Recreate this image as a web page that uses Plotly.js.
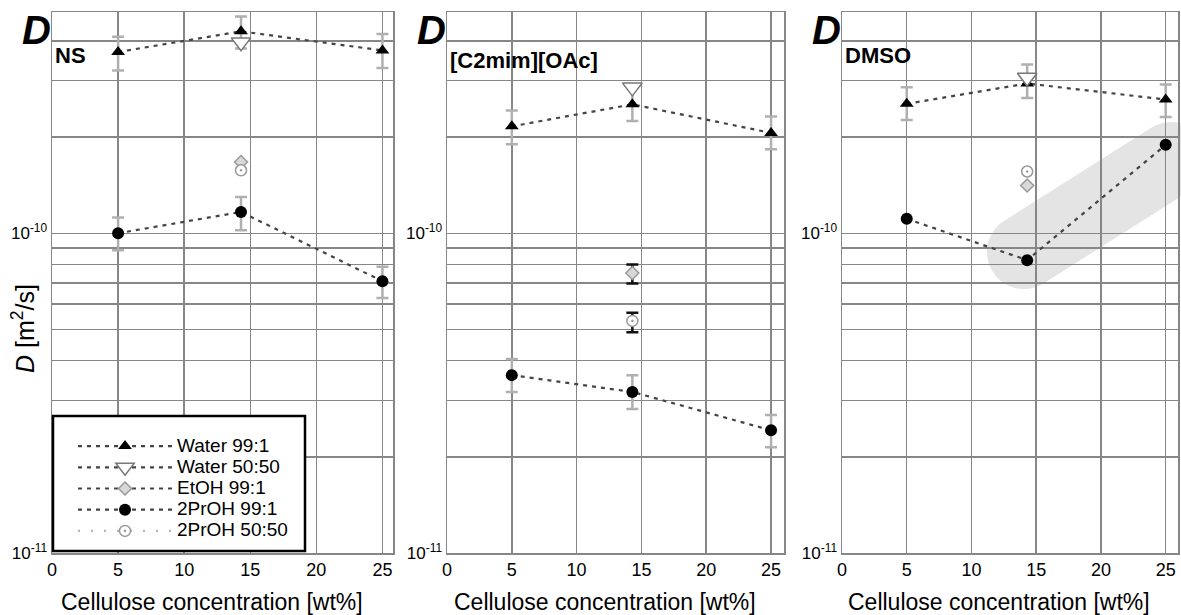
<!DOCTYPE html>
<html><head><meta charset="utf-8">
<script src="https://cdn.plot.ly/plotly-3.0.1.min.js"></script>
<style>html,body{margin:0;padding:0;background:#fff}#chart{width:1181px;height:615px}</style>
</head><body><div id="chart"></div>
<script>
// ---------- data ----------
const conc = [5, 14.3, 25];
const concMid = [14.3];
const panelLabels = ['NS', '[C2mim][OAc]', 'DMSO'];
const seriesNames = ['Water 99:1', 'Water 50:50', 'EtOH 99:1', '2PrOH 99:1', '2PrOH 50:50'];
const xTickVals = [0, 5, 10, 15, 20, 25];
const yTickVals = [1e-11, 1e-10];
const yTickText = ['10<sup>-11</sup>', '10<sup>-10</sup>'];
const yMinorVals = [2e-11, 3e-11, 4e-11, 5e-11, 6e-11, 7e-11, 8e-11, 9e-11, 2e-10, 3e-10, 4e-10];
const xAxisTitle = 'Cellulose concentration [wt%]';
const yAxisTitle = '<i>D</i> [m<sup>2</sup>/s]';

// NS
const nsWater991 = [3.69e-10, 4.28e-10, 3.73e-10];
const nsWater991Hi = [4.12e-10, 4.76e-10, 4.20e-10];
const nsWater991Lo = [3.23e-10, 3.78e-10, 3.29e-10];
const nsWater5050 = [3.96e-10];
const nsEtoh991 = [1.67e-10];
const nsProh991 = [1.00e-10, 1.166e-10, 7.08e-11];
const nsProh991Hi = [1.12e-10, 1.298e-10, 7.85e-11];
const nsProh991Lo = [8.85e-11, 1.022e-10, 6.27e-11];
const nsProh5050 = [1.574e-10];

// [C2mim][OAc]
const ilWater991 = [2.16e-10, 2.53e-10, 2.06e-10];
const ilWater991Hi = [2.42e-10, 2.85e-10, 2.32e-10];
const ilWater991Lo = [1.90e-10, 2.245e-10, 1.83e-10];
const ilWater5050 = [2.86e-10];
const ilEtoh991 = [7.51e-11];
const ilEtoh991Hi = [7.98e-11];
const ilEtoh991Lo = [6.96e-11];
const ilProh991 = [3.60e-11, 3.19e-11, 2.42e-11];
const ilProh991Hi = [4.04e-11, 3.60e-11, 2.70e-11];
const ilProh991Lo = [3.19e-11, 2.82e-11, 2.14e-11];
const ilProh5050 = [5.32e-11];
const ilProh5050Hi = [5.64e-11];
const ilProh5050Lo = [4.90e-11];

// DMSO
const dmWater991 = [2.54e-10, 2.94e-10, 2.62e-10];
const dmWater991Hi = [2.86e-10, 3.37e-10, 2.92e-10];
const dmWater991Lo = [2.26e-10, 2.65e-10, 2.31e-10];
const dmWater5050 = [3.07e-10];
const dmEtoh991 = [1.41e-10];
const dmProh991 = [1.11e-10, 8.24e-11, 1.89e-10];
const dmProh5050 = [1.56e-10];

// ---------- styling / layout helpers ----------
const FONT = 'Liberation Sans, Arial, sans-serif';
const W = 1181, H = 615, ML = 52, MR = 3, MT = 12, MB = 62;
const PW = W - ML - MR, PH = H - MT - MB;
const px2x = p => (p - ML) / PW;
const px2y = p => (H - MB - p) / PH;
const panelPx = [[52, 393], [447, 784], [842, 1178]];
const xRanges = [[0, 25.8], [0, 26.0], [0, 25.95]];
const GRID = '#878787';
const ERRGRAY = '#b0b0b0';
const LINEC = '#444';

function err(vals, hi, lo, color) {
  if (!hi) return {visible: false};
  return {type: 'data', symmetric: false,
    array: vals.map((v, i) => hi[i] - v),
    arrayminus: vals.map((v, i) => v - lo[i]),
    color: color, thickness: 2.5, width: 6};
}

const mk = {
  w991: {symbol: 'triangle-up', size: 12, color: '#000'},
  w5050: {symbol: 'triangle-down', size: 17, color: '#fff', line: {color: '#777', width: 1.5}},
  e991: {symbol: 'diamond', size: 10, color: '#d8d8d8', line: {color: '#999', width: 1.5}},
  p991: {symbol: 'circle', size: 12, color: '#000'},
  p5050: {symbol: 'circle-dot', size: 11, color: '#fff', line: {color: '#999', width: 1.5}}
};
const ln = {color: LINEC, width: 2.2, dash: '4px,5px'};
const lnLight = {color: '#b5b5b5', width: 2.2, dash: '2px,11px'};
const legName = s => '<span style="font-size:19px">' + s + '</span>';

function panel(i, d) {
  const xa = 'x' + (i === 0 ? '' : i + 1), ya = 'y' + (i === 0 ? '' : i + 1);
  const show = i === 0;
  return [
    {x: conc, y: d.w991, mode: 'lines+markers', name: legName(seriesNames[0]), legendgroup: 'g', showlegend: show,
     line: ln, marker: mk.w991, error_y: err(d.w991, d.w991Hi, d.w991Lo, ERRGRAY), xaxis: xa, yaxis: ya},
    {x: concMid, y: d.w5050, mode: 'lines+markers', name: legName(seriesNames[1]), legendgroup: 'g', showlegend: show,
     line: ln, marker: mk.w5050, xaxis: xa, yaxis: ya},
    {x: concMid, y: d.e991, mode: 'lines+markers', name: legName(seriesNames[2]), legendgroup: 'g', showlegend: show,
     line: ln, marker: mk.e991, error_y: err(d.e991, d.e991Hi, d.e991Lo, '#111'), xaxis: xa, yaxis: ya},
    {x: conc, y: d.p991, mode: 'lines+markers', name: legName(seriesNames[3]), legendgroup: 'g', showlegend: show,
     line: ln, marker: mk.p991, error_y: err(d.p991, d.p991Hi, d.p991Lo, ERRGRAY), xaxis: xa, yaxis: ya},
    {x: concMid, y: d.p5050, mode: 'lines+markers', name: legName(seriesNames[4]), legendgroup: 'g', showlegend: show,
     line: lnLight, marker: mk.p5050, error_y: err(d.p5050, d.p5050Hi, d.p5050Lo, '#111'), xaxis: xa, yaxis: ya}
  ];
}

const data = [].concat(
  panel(0, {w991: nsWater991, w991Hi: nsWater991Hi, w991Lo: nsWater991Lo, w5050: nsWater5050,
            e991: nsEtoh991, p991: nsProh991, p991Hi: nsProh991Hi, p991Lo: nsProh991Lo, p5050: nsProh5050}),
  panel(1, {w991: ilWater991, w991Hi: ilWater991Hi, w991Lo: ilWater991Lo, w5050: ilWater5050,
            e991: ilEtoh991, e991Hi: ilEtoh991Hi, e991Lo: ilEtoh991Lo,
            p991: ilProh991, p991Hi: ilProh991Hi, p991Lo: ilProh991Lo,
            p5050: ilProh5050, p5050Hi: ilProh5050Hi, p5050Lo: ilProh5050Lo}),
  panel(2, {w991: dmWater991, w991Hi: dmWater991Hi, w991Lo: dmWater991Lo, w5050: dmWater5050,
            e991: dmEtoh991, p991: dmProh991, p5050: dmProh5050})
);

const layout = {
  width: W, height: H,
  margin: {l: ML, r: MR, t: MT, b: MB},
  paper_bgcolor: '#fff', plot_bgcolor: 'rgba(0,0,0,0)',
  font: {family: FONT, color: '#000'},
  showlegend: true,
  legend: {x: px2x(73), y: px2y(430.5), xanchor: 'left', yanchor: 'top',
           bgcolor: 'rgba(0,0,0,0)', borderwidth: 0, font: {family: FONT, size: 14, color: '#000'},
           itemwidth: 94, tracegroupgap: 0},
  annotations: [],
  shapes: []
};

for (let i = 0; i < 3; i++) {
  const s = i === 0 ? '' : String(i + 1);
  layout['xaxis' + s] = {
    domain: [px2x(panelPx[i][0]), px2x(panelPx[i][1])], range: xRanges[i], anchor: 'y' + s,
    tickmode: 'array', tickvals: xTickVals, ticks: '', showgrid: true, gridcolor: GRID, gridwidth: 1.5,
    zeroline: false, showline: true, mirror: true, linecolor: GRID, linewidth: 1.5,
    tickfont: {family: FONT, size: 18, color: '#000'}
  };
  layout['yaxis' + s] = {
    type: 'log', range: [-11, -9.308], anchor: 'x' + s,
    tickmode: 'array', tickvals: yTickVals, ticktext: yTickText, ticks: '',
    showgrid: true, gridcolor: GRID, gridwidth: 1.5, zeroline: false,
    minor: {tickmode: 'array', tickvals: yMinorVals, showgrid: true, gridcolor: GRID, gridwidth: 1.5, ticks: ''},
    showline: true, mirror: true, linecolor: GRID, linewidth: 1.5,
    tickfont: {family: FONT, size: 17, color: '#000'}
  };
  const cx = (panelPx[i][0] + panelPx[i][1]) / 2 - 11;
  layout.annotations.push({xref: 'paper', yref: 'paper', x: px2x(cx), y: px2y(602), xanchor: 'center', yanchor: 'middle',
    text: xAxisTitle, showarrow: false, font: {family: FONT, size: 23, color: '#000'}});
  layout.annotations.push({xref: 'paper', yref: 'paper', x: px2x(panelPx[i][0] + 1), y: px2y(30), xanchor: 'right', yanchor: 'middle',
    text: '<b><i>D</i></b>', showarrow: false, font: {family: FONT, size: 40, color: '#000'}});
  layout.annotations.push({xref: 'paper', yref: 'paper', x: px2x(panelPx[i][0] + 0.5), y: px2y(i === 1 ? 60 : 55.5), xanchor: 'left', yanchor: 'middle',
    text: '<b>' + panelLabels[i] + '</b>', showarrow: false, font: {family: FONT, size: 22, color: '#000'}});
}
layout.annotations.push({xref: 'paper', yref: 'paper', x: px2x(23), y: px2y(329), xanchor: 'center', yanchor: 'middle',
  textangle: -90, text: yAxisTitle, showarrow: false, font: {family: FONT, size: 25, color: '#000'}});

// legend frame
layout.shapes.push({type: 'rect', xref: 'paper', yref: 'paper', layer: 'above',
  x0: px2x(53), x1: px2x(305), y0: px2y(551), y1: px2y(416),
  line: {color: '#000', width: 2.5}, fillcolor: '#fff'});

// highlight band in DMSO panel (pixel geometry -> domain coords)
(function () {
  const P1 = [1024, 252], P2 = [1171, 159], r = 37, k = 0.5523;
  const dx = P2[0] - P1[0], dy = P2[1] - P1[1], L = Math.hypot(dx, dy);
  const u = [dx / L, dy / L], n = [-u[1], u[0]];
  const x0 = panelPx[2][0], x1 = panelPx[2][1];
  const toD = p => [((p[0] - x0) / (x1 - x0)).toFixed(4), ((H - MB - p[1]) / PH).toFixed(4)];
  const add = (p, a, s) => [p[0] + a[0] * s, p[1] + a[1] * s];
  const pt = p => toD(p).join(',');
  const A = add(P1, n, r), B = add(P2, n, r), C = add(P2, n, -r), D = add(P1, n, -r);
  const Bt = add(P2, u, r), Dt = add(P1, u, -r);
  const path = 'M' + pt(A) + ' L' + pt(B) +
    ' C' + pt(add(B, u, k * r)) + ' ' + pt(add(Bt, n, k * r)) + ' ' + pt(Bt) +
    ' C' + pt(add(Bt, n, -k * r)) + ' ' + pt(add(C, u, k * r)) + ' ' + pt(C) +
    ' L' + pt(D) +
    ' C' + pt(add(D, u, -k * r)) + ' ' + pt(add(Dt, n, -k * r)) + ' ' + pt(Dt) +
    ' C' + pt(add(Dt, n, k * r)) + ' ' + pt(add(A, u, -k * r)) + ' ' + pt(A) + ' Z';
  layout.shapes.push({type: 'path', xref: 'x3 domain', yref: 'y3 domain', layer: 'below',
    path: path, fillcolor: '#e4e4e4', line: {width: 0}});
})();

Plotly.newPlot('chart', data, layout, {displayModeBar: false, staticPlot: true});
</script></body></html>
